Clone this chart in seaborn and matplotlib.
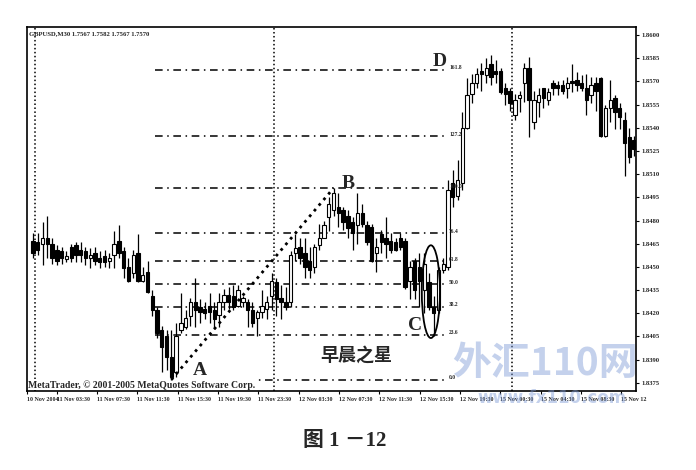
import numpy as np
import pandas as pd
import matplotlib
matplotlib.use("Agg")
import matplotlib.pyplot as plt
from matplotlib.patches import Ellipse
import seaborn as sns

# velas M30 GBPUSD (10-15 nov 2004)
opens = [1.8467, 1.8466, 1.8465, 1.8469, 1.8465, 1.8461, 1.8460, 1.8455, 1.8463, 1.8464,
         1.8461, 1.8460, 1.8456, 1.8459, 1.8456, 1.8457, 1.8454, 1.8458, 1.8467, 1.8460,
         1.8450, 1.8446, 1.8459, 1.8441, 1.8447, 1.8431, 1.8422, 1.8409, 1.8405, 1.8392,
         1.8382, 1.8409, 1.8411, 1.8418, 1.8427, 1.8424, 1.8423, 1.8425, 1.8422, 1.8419,
         1.8427, 1.8432, 1.8431, 1.8425, 1.8427, 1.8427, 1.8422, 1.8417, 1.8421, 1.8423,
         1.8431, 1.8440, 1.8430, 1.8427, 1.8427, 1.8459, 1.8463, 1.8459, 1.8454, 1.8450,
         1.8464, 1.8469, 1.8482, 1.8487, 1.8489, 1.8487, 1.8483, 1.8479, 1.8477, 1.8485,
         1.8477, 1.8476, 1.8459, 1.8471, 1.8469, 1.8467, 1.8466, 1.8469, 1.8467, 1.8441,
         1.8454, 1.8450, 1.8435, 1.8440, 1.8424, 1.8422, 1.8448, 1.8450, 1.8504, 1.8496,
         1.8504, 1.8540, 1.8562, 1.8569, 1.8577, 1.8574, 1.8581, 1.8577, 1.8577, 1.8566,
         1.8564, 1.8548, 1.8559, 1.8569, 1.8579, 1.8544, 1.8557, 1.8566, 1.8558, 1.8569,
         1.8568, 1.8568, 1.8566, 1.8570, 1.8571, 1.8569, 1.8566, 1.8561, 1.8569, 1.8572,
         1.8535, 1.8553, 1.8559, 1.8553, 1.8545, 1.8534, 1.8532]
highs = [1.8472, 1.8472, 1.8479, 1.8483, 1.8469, 1.8464, 1.8463, 1.8460, 1.8465, 1.8466,
         1.8466, 1.8463, 1.8462, 1.8463, 1.8460, 1.8461, 1.8459, 1.8473, 1.8477, 1.8463,
         1.8456, 1.8461, 1.8471, 1.8450, 1.8454, 1.8435, 1.8424, 1.8412, 1.8409, 1.8409,
         1.8414, 1.8433, 1.8422, 1.8430, 1.8443, 1.8429, 1.8427, 1.8433, 1.8427, 1.8433,
         1.8436, 1.8437, 1.8438, 1.8438, 1.8431, 1.8429, 1.8427, 1.8422, 1.8435, 1.8431,
         1.8446, 1.8443, 1.8438, 1.8437, 1.8460, 1.8471, 1.8469, 1.8469, 1.8463, 1.8465,
         1.8478, 1.8480, 1.8495, 1.8501, 1.8498, 1.8489, 1.8487, 1.8482, 1.8498, 1.8491,
         1.8480, 1.8478, 1.8469, 1.8474, 1.8482, 1.8472, 1.8469, 1.8472, 1.8469, 1.8454,
         1.8456, 1.8459, 1.8459, 1.8446, 1.8431, 1.8450, 1.8456, 1.8506, 1.8513, 1.8519,
         1.8550, 1.8572, 1.8575, 1.8579, 1.8582, 1.8585, 1.8587, 1.8584, 1.8579, 1.8569,
         1.8566, 1.8562, 1.8564, 1.8582, 1.8586, 1.8564, 1.8566, 1.8566, 1.8566, 1.8571,
         1.8570, 1.8571, 1.8573, 1.8581, 1.8576, 1.8574, 1.8575, 1.8573, 1.8573, 1.8573,
         1.8555, 1.8571, 1.8561, 1.8556, 1.8550, 1.8540, 1.8535]
lows = [1.8456, 1.8458, 1.8451, 1.8456, 1.8452, 1.8451, 1.8452, 1.8453, 1.8453, 1.8453,
        1.8453, 1.8451, 1.8449, 1.8451, 1.8449, 1.8450, 1.8449, 1.8449, 1.8456, 1.8443,
        1.8440, 1.8443, 1.8440, 1.8440, 1.8433, 1.8418, 1.8404, 1.8382, 1.8383, 1.8377,
        1.8379, 1.8407, 1.8410, 1.8412, 1.8411, 1.8414, 1.8416, 1.8414, 1.8410, 1.8411,
        1.8422, 1.8423, 1.8422, 1.8424, 1.8424, 1.8411, 1.8411, 1.8405, 1.8417, 1.8416,
        1.8422, 1.8418, 1.8416, 1.8422, 1.8424, 1.8454, 1.8452, 1.8443, 1.8443, 1.8446,
        1.8461, 1.8469, 1.8473, 1.8483, 1.8476, 1.8474, 1.8469, 1.8461, 1.8465, 1.8476,
        1.8464, 1.8453, 1.8447, 1.8459, 1.8456, 1.8459, 1.8460, 1.8461, 1.8436, 1.8429,
        1.8429, 1.8424, 1.8420, 1.8422, 1.8405, 1.8420, 1.8446, 1.8448, 1.8489, 1.8493,
        1.8500, 1.8539, 1.8556, 1.8566, 1.8564, 1.8569, 1.8568, 1.8569, 1.8562, 1.8555,
        1.8551, 1.8545, 1.8550, 1.8557, 1.8534, 1.8539, 1.8547, 1.8553, 1.8555, 1.8561,
        1.8561, 1.8562, 1.8559, 1.8563, 1.8564, 1.8564, 1.8548, 1.8556, 1.8551, 1.8534,
        1.8534, 1.8544, 1.8539, 1.8539, 1.8509, 1.8517, 1.8522]
closes = [1.8459, 1.8461, 1.8469, 1.8465, 1.8456, 1.8454, 1.8456, 1.8457, 1.8456, 1.8458,
          1.8458, 1.8456, 1.8458, 1.8454, 1.8453, 1.8453, 1.8456, 1.8465, 1.8459, 1.8449,
          1.8441, 1.8458, 1.8441, 1.8445, 1.8434, 1.8422, 1.8407, 1.8398, 1.8392, 1.8379,
          1.8405, 1.8414, 1.8417, 1.8427, 1.8422, 1.8421, 1.8420, 1.8421, 1.8416, 1.8427,
          1.8432, 1.8427, 1.8424, 1.8435, 1.8430, 1.8422, 1.8414, 1.8421, 1.8425, 1.8427,
          1.8441, 1.8429, 1.8427, 1.8424, 1.8458, 1.8462, 1.8456, 1.8450, 1.8448, 1.8463,
          1.8469, 1.8477, 1.8491, 1.8498, 1.8485, 1.8479, 1.8475, 1.8472, 1.8485, 1.8478,
          1.8466, 1.8454, 1.8463, 1.8466, 1.8465, 1.8461, 1.8461, 1.8463, 1.8437, 1.8450,
          1.8435, 1.8441, 1.8452, 1.8424, 1.8420, 1.8448, 1.8452, 1.8500, 1.8495, 1.8506,
          1.8540, 1.8561, 1.8569, 1.8575, 1.8575, 1.8579, 1.8573, 1.8575, 1.8563, 1.8562,
          1.8556, 1.8558, 1.8561, 1.8579, 1.8558, 1.8558, 1.8561, 1.8559, 1.8563, 1.8566,
          1.8566, 1.8564, 1.8569, 1.8569, 1.8568, 1.8566, 1.8558, 1.8568, 1.8564, 1.8535,
          1.8553, 1.8558, 1.8550, 1.8547, 1.8530, 1.8521, 1.8526]

x_labels = ["10 Nov 2004", "11 Nov 03:30", "11 Nov 07:30", "11 Nov 11:30", "11 Nov 15:30",
            "11 Nov 19:30", "11 Nov 23:30", "12 Nov 03:30", "12 Nov 07:30", "12 Nov 11:30",
            "12 Nov 15:30", "12 Nov 19:30", "15 Nov 00:30", "15 Nov 04:30", "15 Nov 08:30",
            "15 Nov 12"]
y_ticks = [1.8375, 1.8390, 1.8405, 1.8420, 1.8435, 1.8450, 1.8465, 1.8480,
           1.8495, 1.8510, 1.8525, 1.8540, 1.8555, 1.8570, 1.8585, 1.8600]
fib_ratios = [0.0, 23.6, 38.2, 50.0, 61.8, 76.4, 100.0, 127.2, 161.8]
fib_labels = ["0.0", "23.6", "38.2", "50.0", "61.8", "76.4", "100.0", "127.2", "161.8"]
day_breaks = [0.4, 50.5, 100.5]  # separadores de dia (indice de vela)

sns.set_theme(style="white")
plt.rcParams["font.family"] = ["Liberation Serif", "Noto Sans CJK SC", "DejaVu Sans"]

df = pd.DataFrame({"open": opens, "high": highs, "low": lows, "close": closes})
df["idx"] = np.arange(len(df))
up = df["close"] >= df["open"]

fig = plt.figure(figsize=(6.96, 4.70), dpi=100)
ax = fig.add_axes([0.0388, 0.168, 0.875, 0.7745])

# velas
ax.vlines(df["idx"], df["low"], df["high"], color="black", lw=0.9, zorder=3)
body_low = df[["open", "close"]].min(axis=1)
body_h = (df["close"] - df["open"]).abs().clip(lower=0.00004)
ax.bar(df["idx"], body_h, bottom=body_low, width=0.7,
       color=np.where(up, "white", "black"), edgecolor="black", linewidth=0.8, zorder=4)

for d in day_breaks:
    ax.axvline(d, color="black", ls=(0, (1, 1.6)), lw=1.1, zorder=1)

# fibonacci A-B
a_i = int(df["low"].idxmin())
A = df["low"].min()
b_i = int(df["high"][:80].idxmax())
B = df["high"][:80].max()
for r, lab in zip(fib_ratios, fib_labels):
    lev = A + r / 100 * (B - A)
    ax.hlines(lev, 25.5, 86.5, color="black", ls=(0, (5, 3, 1, 3)), lw=1.1, zorder=2)
    ax.text(87.2, lev + 0.00012, lab, fontsize=4, fontweight="bold", va="center", zorder=5)

sns.lineplot(x=[a_i, b_i], y=[A, B], ax=ax, color="black", lw=2, linestyle=":", zorder=5)

ax.add_patch(Ellipse((83.4, 1.8434), 3.8, 0.0060, fill=False, ec="black", lw=1.3, zorder=6))

ax.text(a_i + 6, A + 0.0006, "A", fontsize=14, fontweight="bold", ha="center", va="center")
ax.text(b_i + 3, B + 0.0003, "B", fontsize=14, fontweight="bold", ha="center", va="center")
ax.text(80, 1.8412, "C", fontsize=14, fontweight="bold", ha="center", va="center")
ax.text(85.3, 1.8583, "D", fontsize=14, fontweight="bold", ha="center", va="center")
ax.text(67.7, 1.8393, "早晨之星", fontsize=13, fontweight="bold", ha="center", va="center",
        family=["Noto Sans CJK SC"])

ax.text(0.004, 0.988, "GBPUSD,M30 1.7567 1.7582 1.7567 1.7570", transform=ax.transAxes,
        fontsize=4.8, fontweight="bold", va="top", ha="left")
ax.text(0.002, 0.004, "MetaTrader, © 2001-2005 MetaQuotes Software Corp.", transform=ax.transAxes,
        fontsize=7, fontweight="bold", va="bottom", ha="left", zorder=2.5,
        bbox=dict(facecolor="white", edgecolor="none", pad=0.6))

ax.set_xlim(-1.26, 126.4)
ax.set_ylim(1.83697, 1.86052)
ax.yaxis.tick_right()
ax.set_yticks(y_ticks)
ax.set_yticklabels([f"{v:.4f}" for v in y_ticks], fontsize=4.8, fontweight="bold")
tick_pos = [-1.2] + [5.0 + 8.45 * k for k in range(len(x_labels) - 1)]
ax.set_xticks(tick_pos)
ax.set_xticklabels(x_labels, fontsize=4.3, fontweight="bold", ha="left")
ax.tick_params(axis="both", length=2, width=0.8, color="black", pad=2, direction="out",
               bottom=True, right=True)
for s in ax.spines.values():
    s.set_color("black")
    s.set_linewidth(1.2)
ax.set_xlabel("")
ax.set_ylabel("")

# marca de agua y pie de figura
fig.text(545 / 696, 1 - 364 / 470, "外汇110网", fontsize=28, fontweight="bold", color="#7d9ad6",
         alpha=0.45, ha="center", va="center", family=["Noto Sans CJK SC"], zorder=10)
fig.text(552 / 696, 1 - 398 / 470, "www.fx110.com", fontsize=12, fontweight="bold",
         color="#7d9ad6", alpha=0.45, ha="center", va="center", family=["DejaVu Sans"], zorder=10)
fig.text(345 / 696, 1 - 441 / 470, "图 1 －12", fontsize=15, fontweight="bold",
         ha="center", va="center")

fig.savefig("out.png", dpi=100, facecolor="white")
